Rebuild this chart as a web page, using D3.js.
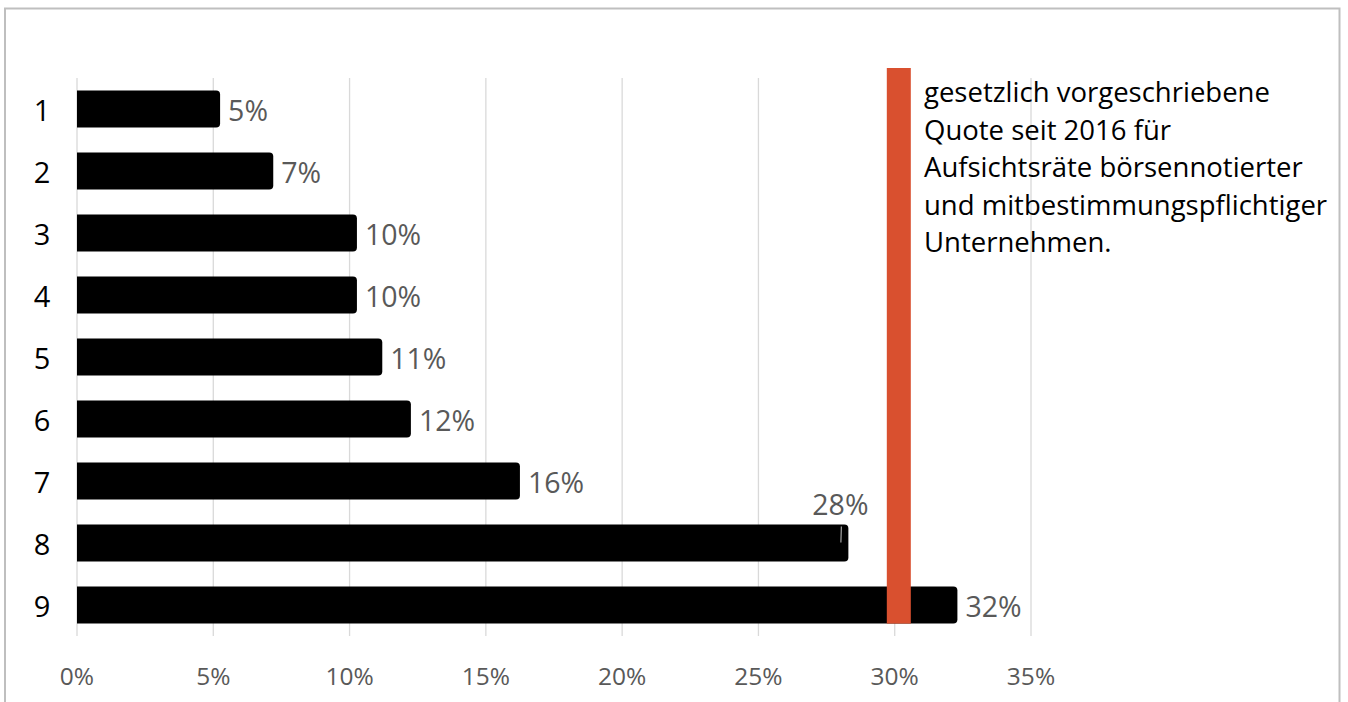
<!DOCTYPE html>
<html>
<head>
<meta charset="utf-8">
<script src="https://cdn.jsdelivr.net/npm/d3@7"></script>
<style>
  body { margin: 0; background: #fff; }
  text { font-family: "Open Sans", "Noto Sans", sans-serif; }
</style>
</head>
<body>
<svg id="chart" width="1348" height="702"></svg>
<script>
// data
const categories = ['1', '2', '3', '4', '5', '6', '7', '8', '9']
const values = [5.25, 7.2, 10.27, 10.27, 11.2, 12.25, 16.25, 28.3, 32.3]
const valueLabels = ['5%', '7%', '10%', '10%', '11%', '12%', '16%', '28%', '32%']
const ticks = [0, 5, 10, 15, 20, 25, 30, 35]
const quota = 30.15
const noteLines = [
  'gesetzlich vorgeschriebene',
  'Quote seit 2016 für',
  'Aufsichtsräte börsennotierter',
  'und mitbestimmungspflichtiger',
  'Unternehmen.'
]

const svg = d3.select('#chart')

// outer frame
svg.append('rect')
  .attr('x', 5)
  .attr('y', 8.5)
  .attr('width', 1334.5)
  .attr('height', 730)
  .attr('fill', 'none')
  .attr('stroke', '#bfbfbf')
  .attr('stroke-width', 2)

const x = d3.scaleLinear()
  .domain([0, 35])
  .range([77, 1031])

const y = d3.scaleBand()
  .domain(categories)
  .range([78, 636])
  .paddingInner(0.4)
  .paddingOuter(0.2)

// vertical gridlines
svg.append('g')
  .selectAll('line')
  .data(ticks)
  .enter()
  .append('line')
  .attr('x1', d => x(d))
  .attr('x2', d => x(d))
  .attr('y1', y.range()[0])
  .attr('y2', y.range()[1])
  .attr('stroke', '#d9d9d9')
  .attr('stroke-width', 1.3)

// tick labels
svg.append('g')
  .selectAll('text')
  .data(ticks)
  .enter()
  .append('text')
  .attr('x', d => x(d))
  .attr('y', 676)
  .attr('dy', '0.36em')
  .attr('text-anchor', 'middle')
  .attr('font-size', 24.5)
  .attr('fill', '#595959')
  .text(d => d + '%')

// category labels
svg.append('g')
  .selectAll('text')
  .data(categories)
  .enter()
  .append('text')
  .attr('x', 42)
  .attr('y', d => y(d) + y.bandwidth() / 2)
  .attr('dy', '0.42em')
  .attr('text-anchor', 'middle')
  .attr('font-size', 29)
  .attr('fill', '#000')
  .text(d => d)

// bars with rounded right end
const r = 4
function barPath(d, i) {
  const x0 = x(0)
  const x1 = x(values[i])
  const y0 = y(d)
  const h = y.bandwidth()
  return `M${x0},${y0} H${x1 - r} Q${x1},${y0} ${x1},${y0 + r} V${y0 + h - r} Q${x1},${y0 + h} ${x1 - r},${y0 + h} H${x0} Z`
}

svg.append('g')
  .selectAll('path')
  .data(categories)
  .enter()
  .append('path')
  .attr('d', (d, i) => barPath(d, i))
  .attr('fill', '#000')

// value labels (the 28% one sits above its bar)
svg.append('g')
  .selectAll('text')
  .data(categories)
  .enter()
  .append('text')
  .attr('x', (d, i) => i === 7 ? x(values[i]) - 8 : x(values[i]) + 8)
  .attr('y', (d, i) => y(d) + y.bandwidth() / 2 + (i === 7 ? -40 : 0))
  .attr('dy', '0.42em')
  .attr('text-anchor', (d, i) => i === 7 ? 'middle' : 'start')
  .attr('font-size', 28.5)
  .attr('fill', '#595959')
  .text((d, i) => valueLabels[i])

// small leader line of the moved label
svg.append('line')
  .attr('x1', x(values[7]) - 7)
  .attr('x2', x(values[7]) - 7.5)
  .attr('y1', y('8') + 2)
  .attr('y2', y('8') + 18)
  .attr('stroke', '#a6a6a6')
  .attr('stroke-width', 1.2)

// quota marker
svg.append('rect')
  .attr('x', x(quota) - 12)
  .attr('y', y.range()[0] - 10)
  .attr('width', 24)
  .attr('height', y('9') + y.bandwidth() - (y.range()[0] - 10))
  .attr('fill', '#d9502f')

// note next to the marker
svg.append('text')
  .attr('font-size', 27.5)
  .attr('fill', '#000')
  .selectAll('tspan')
  .data(noteLines)
  .enter()
  .append('tspan')
  .attr('x', 924)
  .attr('y', (d, i) => 92 + i * 37.6)
  .attr('dy', '0.36em')
  .text(d => d)
</script>
</body>
</html>
